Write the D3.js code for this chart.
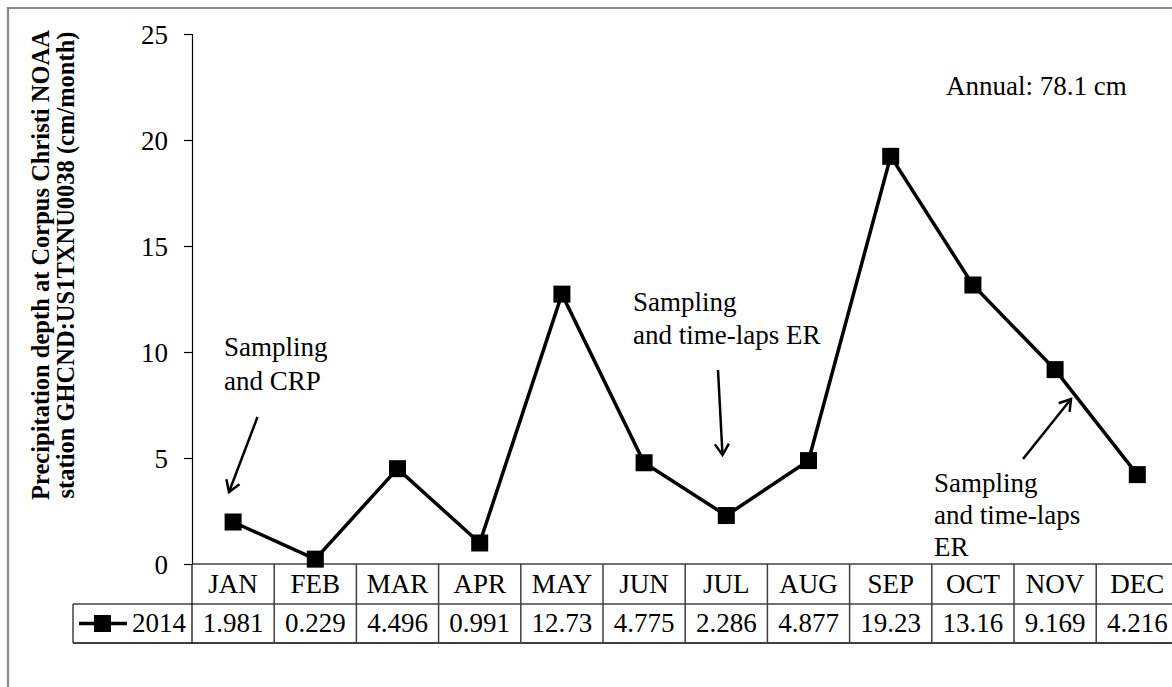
<!DOCTYPE html>
<html><head><meta charset="utf-8">
<script src="https://cdn.jsdelivr.net/npm/d3@7"></script>
</head>
<body style="margin:0;background:#fff">
<svg id="chart" width="1172" height="687" style="display:block"></svg>
<script>
const months = ["JAN","FEB","MAR","APR","MAY","JUN","JUL","AUG","SEP","OCT","NOV","DEC"];
const values = [1.981,0.229,4.496,0.991,12.73,4.775,2.286,4.877,19.23,13.16,9.169,4.216];
const valueLabels = ["1.981","0.229","4.496","0.991","12.73","4.775","2.286","4.877","19.23","13.16","9.169","4.216"];
const seriesName = "2014";
const yTicks = [0,5,10,15,20,25];
const yTitle = ["Precipitation depth at Corpus Christi NOAA","station GHCND:US1TXNU0038 (cm/month)"];
const annualText = "Annual: 78.1 cm";

(function(){
const FONT = "'Liberation Serif', 'Times New Roman', Tinos, serif";
const svg = d3.select("#chart");
const L = 192, colW = 82.2, plotTop = 34, base = 564, rowH = 40;
const x = d3.scaleBand().domain(months).range([L, L + colW*12]).padding(0);
const y = d3.scaleLinear().domain([0,25]).range([base, plotTop]);
const FS = 27;

// outer border
svg.append("path").attr("d","M8,700 L8,8 L1180,8").attr("fill","none").attr("stroke","#888").attr("stroke-width",2.2);

// y axis
const yAxis = d3.axisLeft(y).tickValues(yTicks).tickSize(8).tickPadding(16).tickFormat(d3.format("d"));
const gy = svg.append("g").attr("transform",`translate(${L},0)`).call(yAxis);
gy.attr("font-family",FONT).attr("font-size",FS);
gy.select(".domain").attr("stroke","#000").attr("stroke-width",1.2);
gy.selectAll(".tick line").attr("stroke","#000").attr("stroke-width",1.2);
gy.selectAll(".tick text").attr("font-family",FONT).style("font-family",FONT).attr("font-size",FS).attr("fill","#000").attr("dy","0.34em");

// y title
const tg = svg.append("g").attr("transform","translate(0,265) rotate(-90)");
tg.selectAll("text").data(yTitle).join("text")
  .attr("x",0).attr("y",(d,i)=>49+i*25)
  .attr("text-anchor","middle").attr("font-weight","bold").attr("font-size",24.5)
  .attr("font-family",FONT).style("font-family",FONT).text(d=>d);

// table
const tableStroke = "#404040";
const gt = svg.append("g");
gt.append("line").attr("x1",L).attr("x2",1180).attr("y1",base).attr("y2",base).attr("stroke",tableStroke).attr("stroke-width",1.5);
gt.append("line").attr("x1",73).attr("x2",1180).attr("y1",base+rowH).attr("y2",base+rowH).attr("stroke",tableStroke).attr("stroke-width",1.5);
gt.append("line").attr("x1",73).attr("x2",1180).attr("y1",base+rowH*2-1).attr("y2",base+rowH*2-1).attr("stroke",tableStroke).attr("stroke-width",1.8);
gt.append("line").attr("x1",73).attr("x2",73).attr("y1",base+rowH).attr("y2",base+rowH*2-1).attr("stroke",tableStroke).attr("stroke-width",1.5);
gt.append("line").attr("x1",L).attr("x2",L).attr("y1",base).attr("y2",base+rowH*2-1).attr("stroke","#000").attr("stroke-width",1.2);
gt.selectAll("line.sep").data(months.slice(1)).join("line").attr("class","sep")
  .attr("x1",d=>x(d)).attr("x2",d=>x(d)).attr("y1",base).attr("y2",base+rowH*2-1)
  .attr("stroke",tableStroke).attr("stroke-width",1.5);
gt.selectAll("text.m").data(months).join("text").attr("class","m")
  .attr("x",d=>x(d)+x.bandwidth()/2).attr("y",base+29)
  .attr("text-anchor","middle").attr("font-size",FS).attr("font-family",FONT).style("font-family",FONT).text(d=>d);
gt.selectAll("text.v").data(valueLabels).join("text").attr("class","v")
  .attr("x",(d,i)=>x(months[i])+x.bandwidth()/2).attr("y",base+rowH+28)
  .attr("text-anchor","middle").attr("font-size",FS).attr("font-family",FONT).style("font-family",FONT).text(d=>d);
gt.append("line").attr("x1",79).attr("x2",127).attr("y1",base+rowH+19.5).attr("y2",base+rowH+19.5).attr("stroke","#000").attr("stroke-width",3.5);
gt.append("rect").attr("x",94).attr("y",base+rowH+11).attr("width",17).attr("height",17).attr("fill","#000");
gt.append("text").attr("x",186).attr("y",base+rowH+28).attr("text-anchor","end").attr("font-size",FS).attr("font-family",FONT).style("font-family",FONT).text(seriesName);

// line series
const cx = (d,i)=>x(months[i])+x.bandwidth()/2;
svg.append("path").datum(values)
  .attr("d",d3.line().x(cx).y(d=>y(d)))
  .attr("fill","none").attr("stroke","#000").attr("stroke-width",3.5).attr("stroke-linejoin","miter");
svg.selectAll("rect.pt").data(values).join("rect").attr("class","pt")
  .attr("x",(d,i)=>cx(d,i)-8.5).attr("y",d=>y(d)-8.5).attr("width",17).attr("height",17).attr("fill","#000");

// annotations
svg.append("defs").append("marker").attr("id","ah").attr("viewBox","-15 -10 20 20")
  .attr("markerWidth",20).attr("markerHeight",20).attr("refX",0).attr("refY",0)
  .attr("markerUnits","userSpaceOnUse").attr("orient","auto")
  .append("path").attr("d","M-11,-7 L0,0 L-11,7").attr("fill","none").attr("stroke","#000").attr("stroke-width",2.5);

function note(lines, x0, y0, lh){
  svg.append("g").selectAll("text").data(lines).join("text")
    .attr("x",x0).attr("y",(d,i)=>y0+i*lh).attr("font-size",FS).attr("font-family",FONT).style("font-family",FONT).text(d=>d);
}
function arrow(x1,y1,x2,y2){
  svg.append("line").attr("x1",x1).attr("y1",y1).attr("x2",x2).attr("y2",y2)
    .attr("stroke","#000").attr("stroke-width",2.5).attr("marker-end","url(#ah)");
}
note(["Sampling","and CRP"],224,356,34);
arrow(257.5,417,229,492);
note(["Sampling","and time-laps ER"],633,311,32.5);
arrow(718,370,722.5,455);
note(["Sampling","and time-laps","ER"],934,491.5,32);
arrow(1023,459,1071,399);
note([annualText],946,95,0);
})();
</script>
</body></html>
